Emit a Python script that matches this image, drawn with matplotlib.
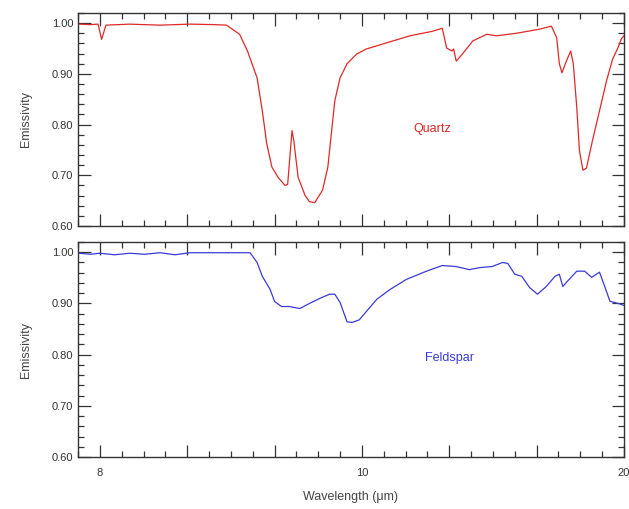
import matplotlib
matplotlib.use("Agg")
import matplotlib.pyplot as plt
from matplotlib.ticker import MultipleLocator, FixedLocator, FixedFormatter

plt.rcParams['font.family'] = ['Liberation Sans', 'DejaVu Sans']

# x in major-tick units (0 -> "8", 3 -> "10", 6 -> "20")
quartz_x = [-0.23, -0.11, -0.02, 0.02, 0.07, 0.34, 0.69, 1.03, 1.32, 1.45,
            1.60, 1.69, 1.80, 1.86, 1.91, 1.97, 2.04, 2.12, 2.15, 2.20,
            2.22, 2.27, 2.35, 2.40, 2.46, 2.55, 2.61, 2.65, 2.69, 2.75,
            2.83, 2.94, 3.05, 3.28, 3.55, 3.81, 3.92, 3.97, 4.03, 4.05,
            4.08, 4.15, 4.27, 4.43, 4.54, 4.77, 5.03, 5.17, 5.23, 5.26,
            5.29, 5.34, 5.39, 5.42, 5.46, 5.49, 5.53, 5.57, 5.64, 5.72,
            5.80, 5.87, 5.93, 5.97, 6.00]
quartz_y = [0.998, 0.997, 0.998, 0.968, 0.996, 0.998, 0.996, 0.998, 0.997, 0.996,
            0.978, 0.945, 0.892, 0.827, 0.763, 0.716, 0.696, 0.680, 0.682, 0.788,
            0.769, 0.696, 0.660, 0.648, 0.646, 0.671, 0.716, 0.782, 0.847, 0.892,
            0.920, 0.939, 0.949, 0.961, 0.975, 0.984, 0.990, 0.951, 0.945, 0.949,
            0.925, 0.939, 0.965, 0.978, 0.975, 0.980, 0.988, 0.994, 0.971, 0.920,
            0.902, 0.925, 0.945, 0.920, 0.833, 0.749, 0.710, 0.714, 0.769, 0.827,
            0.886, 0.929, 0.951, 0.969, 0.975]

feldspar_x = [-0.23, -0.11, 0.00, 0.17, 0.34, 0.51, 0.69, 0.86, 1.03, 1.26,
              1.49, 1.72, 1.80, 1.86, 1.95, 2.00, 2.08, 2.17, 2.29, 2.40,
              2.52, 2.63, 2.69, 2.75, 2.83, 2.89, 2.97, 3.05, 3.17, 3.32,
              3.51, 3.74, 3.92, 4.08, 4.23, 4.35, 4.49, 4.61, 4.67, 4.75,
              4.83, 4.92, 5.01, 5.11, 5.21, 5.26, 5.30, 5.34, 5.46, 5.55,
              5.63, 5.72, 5.78, 5.84, 5.89, 5.97, 6.00]
feldspar_y = [0.998, 0.996, 0.998, 0.995, 0.998, 0.996, 0.999, 0.995, 0.999, 0.999,
              0.999, 0.999, 0.980, 0.953, 0.927, 0.904, 0.894, 0.894, 0.890, 0.900,
              0.910, 0.918, 0.918, 0.902, 0.864, 0.863, 0.868, 0.884, 0.908, 0.927,
              0.947, 0.963, 0.974, 0.972, 0.966, 0.970, 0.972, 0.980, 0.978, 0.957,
              0.953, 0.931, 0.918, 0.933, 0.953, 0.957, 0.933, 0.941, 0.963, 0.963,
              0.951, 0.961, 0.933, 0.904, 0.902, 0.898, 0.896]

xtick_labels = ['8', '', '', '10', '', '', '20']

fig = plt.figure(figsize=(6.29, 5.09), dpi=100)
ax1 = fig.add_axes([0.124, 0.556, 0.868, 0.4185])
ax2 = fig.add_axes([0.124, 0.102, 0.868, 0.4226])

def style(ax):
    ax.set_xlim(-0.25, 6.0)
    ax.set_ylim(0.60, 1.02)
    ax.xaxis.set_major_locator(FixedLocator(range(7)))
    ax.xaxis.set_minor_locator(MultipleLocator(0.25))
    ax.yaxis.set_major_locator(MultipleLocator(0.1))
    ax.yaxis.set_minor_locator(MultipleLocator(0.02))
    ax.yaxis.set_major_formatter(plt.FormatStrFormatter('%.2f'))
    ax.tick_params(which='both', direction='in', top=True, right=True,
                   width=0.9, labelsize=8, colors='#333333')
    ax.tick_params(which='major', length=9)
    ax.tick_params(which='minor', length=4.5)
    for s in ax.spines.values():
        s.set_linewidth(1.0)
        s.set_color('#333333')
    ax.set_ylabel('Emissivity', fontsize=9, color='#444444', labelpad=14)

style(ax1)
style(ax2)
ax1.tick_params(labelbottom=False)

ax2.xaxis.set_major_formatter(FixedFormatter(xtick_labels))
ax2.tick_params(axis='x', pad=8)

ax1.plot(quartz_x, quartz_y, color='#e02828', lw=0.9)
ax2.plot(feldspar_x, feldspar_y, color='#3a3ad8', lw=0.9)

ax1.text(3.81, 0.792, 'Quartz', color='#e02828', fontsize=9, ha='center', va='center')
ax2.text(4.0, 0.793, 'Feldspar', color='#3a3ad8', fontsize=9, ha='center', va='center')

ax2.set_xlabel('Wavelength (\u03bcm)', fontsize=9, color='#444444', labelpad=9)

fig.savefig('out.png', dpi=100)
